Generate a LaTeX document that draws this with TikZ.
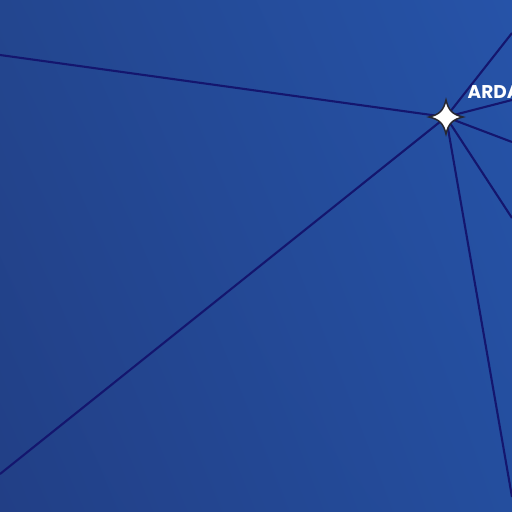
\documentclass[tikz,border=0pt]{standalone}
\usepackage{fontspec}
\usetikzlibrary{shadings}
\newfontfamily\labelfont{Poppins}
\definecolor{bgUL}{RGB}{35,70,143}
\definecolor{bgUR}{RGB}{38,83,168}
\definecolor{bgLL}{RGB}{34,63,134}
\definecolor{bgLR}{RGB}{36,78,158}
\definecolor{edgecol}{RGB}{20,22,110}
\definecolor{staredge}{RGB}{40,40,50}
\tikzset{
  link/.style={draw=edgecol, line width=2.1pt},
  starfill/.style={fill=white, draw=staredge, line width=1.5pt, line join=miter},
  lbl/.style={text=white, font=\labelfont\bfseries\fontsize{18.5}{20}\selectfont, inner sep=0pt}
}
\begin{document}
\begin{tikzpicture}[x=1pt,y=-1pt]
\useasboundingbox (0,0) rectangle (512,512);
\clip (0,0) rectangle (512,512);
\shade[upper left=bgUL, upper right=bgUR, lower left=bgLL, lower right=bgLR] (0,0) rectangle (512,512);
\coordinate (arda) at (446,117);
\coordinate (e1) at (0,55);
\coordinate (e2) at (0,474);
\coordinate (e3) at (512,33);
\coordinate (e4) at (512,100);
\coordinate (e5) at (512,142);
\coordinate (e6) at (512,218);
\coordinate (e7) at (512,497);
\foreach \e in {e1,e2,e3,e4,e5,e6,e7} \draw[link] (arda) -- (\e);
\begin{scope}[shift={(arda)}]
\path[starfill] (0,-17) .. controls (2.5,-6.5) and (6.5,-2.5) .. (17,0)
  .. controls (6.5,2.5) and (2.5,6.5) .. (0,17)
  .. controls (-2.5,6.5) and (-6.5,2.5) .. (-17,0)
  .. controls (-6.5,-2.5) and (-2.5,-6.5) .. (0,-17) -- cycle;
\end{scope}
\node[lbl, anchor=base west] (ardalabel) at (467.5,98.5) {ARDA};
\end{tikzpicture}
\end{document}
